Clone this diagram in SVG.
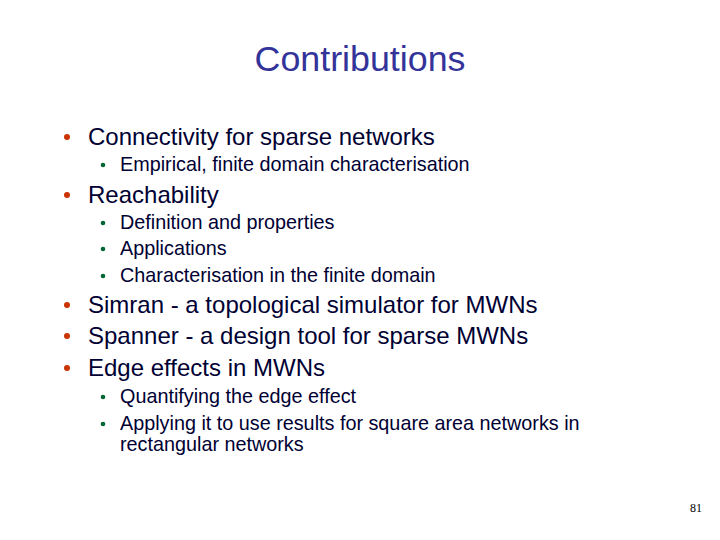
<svg xmlns="http://www.w3.org/2000/svg" width="720" height="540" viewBox="0 0 720 540">
<style>
.t{font-family:"Liberation Sans",Arial,sans-serif;fill:#000033}
.m{font-size:24px}
.s{font-size:19.8px}
.b1{fill:#CC3300}
.b2{fill:#006633}
</style>
<rect width="720" height="540" fill="#fff"/>
<text x="360" y="71" text-anchor="middle" style="font-family:'Liberation Sans',Arial,sans-serif;font-size:35.8px;fill:#333399">Contributions</text>
<g class="t m">
<circle class="b1" cx="67" cy="137" r="3"/><text x="88" y="145">Connectivity for sparse networks</text>
<circle class="b1" cx="67" cy="195" r="3"/><text x="88" y="203">Reachability</text>
<circle class="b1" cx="67" cy="305" r="3"/><text x="88" y="313">Simran - a topological simulator for MWNs</text>
<circle class="b1" cx="67" cy="336" r="3"/><text x="88" y="344">Spanner - a design tool for sparse MWNs</text>
<circle class="b1" cx="67" cy="368" r="3"/><text x="88" y="376">Edge effects in MWNs</text>
</g>
<g class="t s">
<circle class="b2" cx="103" cy="165" r="2.3"/><text x="120" y="171">Empirical, finite domain characterisation</text>
<circle class="b2" cx="103" cy="223" r="2.3"/><text x="120" y="229">Definition and properties</text>
<circle class="b2" cx="103" cy="249" r="2.3"/><text x="120" y="255">Applications</text>
<circle class="b2" cx="103" cy="276" r="2.3"/><text x="120" y="282">Characterisation in the finite domain</text>
<circle class="b2" cx="103" cy="397" r="2.3"/><text x="120" y="403">Quantifying the edge effect</text>
<circle class="b2" cx="103" cy="424" r="2.3"/><text x="120" y="430">Applying it to use results for square area networks in</text>
<text x="120" y="451">rectangular networks</text>
</g>
<text x="702" y="512" text-anchor="end" style="font-family:'Liberation Serif',serif;font-size:12px;fill:#000">81</text>
</svg>
